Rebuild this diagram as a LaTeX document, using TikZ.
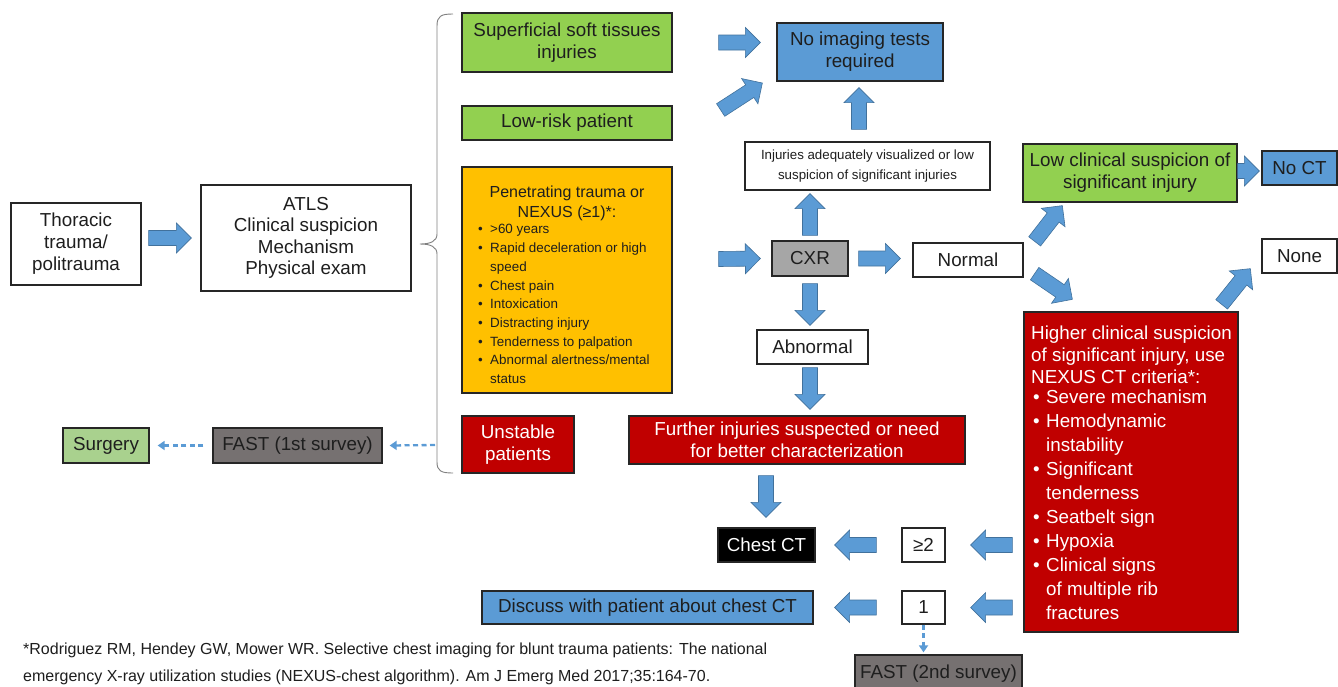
\documentclass[tikz,border=0pt]{standalone}
\usepackage{fontspec}
\setmainfont{Liberation Sans}
\usetikzlibrary{calc,arrows.meta}
\definecolor{cgreen}{HTML}{92D050}
\definecolor{cblue}{HTML}{5B9BD5}
\definecolor{cblueline}{HTML}{41719C}
\definecolor{corange}{HTML}{FFC000}
\definecolor{cred}{HTML}{C00000}
\definecolor{cgrey}{HTML}{A6A6A6}
\definecolor{cdgrey}{HTML}{767171}
\definecolor{clgreen}{HTML}{A9D18E}
\definecolor{ctext}{HTML}{1E1E1E}
\newcommand\fs[2]{\fontsize{#1}{#2}\selectfont}
\newcommand\pbul{\makebox[18pt][l]{\hspace{6pt}\textbullet}}
\newcommand\hbul{\makebox[15pt][l]{\hspace{2pt}\textbullet}}
\newcommand\blk[2]{%
  \coordinate (bA) at #1;
  \coordinate (bB) at #2;
  \coordinate (bH) at ($(bB)!15pt!(bA)$);
  \draw[blkarrow] ($(bA)!7.5pt!90:(bB)$) -- ($(bH)!7.5pt!90:(bB)$) -- ($(bH)!15pt!90:(bB)$) -- (bB)
     -- ($(bH)!15pt!-90:(bB)$) -- ($(bH)!7.5pt!-90:(bB)$) -- ($(bA)!7.5pt!-90:(bB)$) -- cycle;}
\tikzset{
  box/.style={draw=black!85, line width=1.3pt, inner sep=0pt, align=center,
    font=\fs{18.8}{22}, text=ctext},
  txt/.style={inner sep=0pt, text=ctext},
  blkarrow/.style={fill=cblue, draw=cblueline, line width=0.6pt, line join=miter},
  dasharrow/.style={draw=cblue, line width=2.3pt, dash pattern=on 5pt off 3.5pt,
    -{Triangle[length=7pt,width=9pt]}},
  bracestyle/.style={draw=black!50, line width=0.9pt},
}
\begin{document}
\begin{tikzpicture}[x=1pt,y=-1pt]
\useasboundingbox (0,0) rectangle (1338,686);
\fill[white] (0,0) rectangle (1338,686);

% left column
\node[box, minimum width=130pt, minimum height=82pt] (thor) at (76,244) {Thoracic\\trauma/\\politrauma};
\node[box, minimum width=210pt, minimum height=106pt, font=\fs{18.8}{21.5}] (atls) at (306,238) {ATLS\\Clinical suspicion\\Mechanism\\Physical exam};
\node[box, fill=clgreen, minimum width=86pt, minimum height=35pt] (surg) at (106,445.5) {Surgery};
\node[box, fill=cdgrey, minimum width=169pt, minimum height=35pt] (fast1) at (297.5,445.5) {FAST (1st survey)};

% brace
\draw[bracestyle] (453,14) .. controls (441,14) and (437,16) .. (437,26) -- (437,234)
  .. controls (437,241) and (431,244) .. (420,244)
  .. controls (431,244) and (437,247) .. (437,254) -- (437,462)
  .. controls (437,471) and (441,473) .. (453,473);
\coordinate (bracept) at (435,445);

% second column
\node[box, fill=cgreen, minimum width=210pt, minimum height=59pt] (sup) at (567,42.5) {Superficial soft tissues\\injuries};
\node[box, fill=cgreen, minimum width=210pt, minimum height=34pt] (lowrisk) at (567,123) {Low-risk patient};
\node[box, fill=corange, minimum width=210pt, minimum height=226pt] (pen) at (567,280) {};
\node[txt, align=center, font=\fs{16}{20}, anchor=base] (pentitle) at (567,217.5) {Penetrating trauma or\\NEXUS (≥1)*:};
\node[txt, align=left, font=\fs{13.4}{18.7}, anchor=base west] (penlist) at (472,383.5)
  {\pbul >60 years\\
   \pbul Rapid deceleration or high\\
   \hspace*{18pt}speed\\
   \pbul Chest pain\\
   \pbul Intoxication\\
   \pbul Distracting injury\\
   \pbul Tenderness to palpation\\
   \pbul Abnormal alertness/mental\\
   \hspace*{18pt}status};
\node[box, fill=cred, text=white, minimum width=112pt, minimum height=57pt] (unst) at (518,444.5) {Unstable\\patients};

% middle
\node[box, fill=cblue, minimum width=166pt, minimum height=58pt] (noimg) at (860,52) {No imaging tests\\required};
\node[box, minimum width=245pt, minimum height=48pt, font=\fs{13.3}{20}] (inj) at (867.5,166) {Injuries adequately visualized or low\\suspicion of significant injuries};
\node[box, fill=cgrey, minimum width=76pt, minimum height=35pt] (cxr) at (810,258.5) {CXR};
\node[box, minimum width=110pt, minimum height=34pt] (normal) at (968,260) {Normal};
\node[box, minimum width=111pt, minimum height=34pt] (abn) at (812.5,347) {Abnormal};
\node[box, fill=cred, text=white, minimum width=336pt, minimum height=48pt] (further) at (797,440) {Further injuries suspected or need\\for better characterization};
\node[box, fill=black, text=white, minimum width=97pt, minimum height=34pt] (chestct) at (766.5,545) {Chest CT};
\node[box, minimum width=43pt, minimum height=34pt] (ge2) at (923.5,545) {≥2};
\node[box, fill=cblue, minimum width=331pt, minimum height=33pt] (disc) at (647.5,607.5) {Discuss with patient about chest CT};
\node[box, minimum width=43pt, minimum height=33pt] (one) at (923.5,607.5) {1};
\node[box, fill=cdgrey, minimum width=167pt, minimum height=38pt] (fast2) at (938.5,674) {FAST (2nd survey)};

% right
\node[box, fill=cgreen, minimum width=214pt, minimum height=58pt] (lowcl) at (1130,173) {Low clinical suspicion of\\significant injury};
\node[box, fill=cblue, minimum width=75pt, minimum height=34pt] (noct) at (1299.5,168) {No CT};
\node[box, minimum width=75pt, minimum height=34pt] (none) at (1299.5,256) {None};
\node[box, fill=cred, minimum width=214pt, minimum height=320pt] (higher) at (1131,472) {};
\node[txt, text=white, align=left, font=\fs{18.8}{22}, anchor=base west] (highertxt) at (1031,619)
  {Higher clinical suspicion\\of significant injury, use\\NEXUS CT criteria*:\\[-2pt]
   \hbul Severe mechanism\\[2pt]
   \hbul Hemodynamic\\[2pt]
   \hspace*{15pt}instability\\[2pt]
   \hbul Significant\\[2pt]
   \hspace*{15pt}tenderness\\[2pt]
   \hbul Seatbelt sign\\[2pt]
   \hbul Hypoxia\\[2pt]
   \hbul Clinical signs\\[2pt]
   \hspace*{15pt}of multiple rib\\[2pt]
   \hspace*{15pt}fractures};

% footnote
\node[txt, anchor=base west, align=left, font=\fs{16}{27}] (foot) at (23,681.5)
  {*Rodriguez RM, Hendey GW, Mower WR. Selective chest imaging for blunt trauma patients: The national\\
   emergency X-ray utilization studies (NEXUS-chest algorithm). Am J Emerg Med 2017;35:164-70.};

% block arrows
\blk{($(thor.east)+(7,-6)$)}{($(atls.west)+(-9,0)$)}
\blk{($(sup.east)+(46,0)$)}{($(noimg.west)+(-16,-9.5)$)}
\blk{($(lowrisk.east)+(48,-13)$)}{($(noimg.west)+(-14,31)$)}
\blk{($(inj.north)+(-8.5,-12)$)}{($(noimg.south)+(-1,6)$)}
\blk{($(pen.east)+(46,-21)$)}{($(cxr.west)+(-11,0)$)}
\blk{($(cxr.north)+(0,-5)$)}{($(inj.south)+(-57.5,3)$)}
\blk{($(cxr.east)+(10,0)$)}{($(normal.west)+(-12,-1.5)$)}
\blk{($(cxr.south)+(0,7)$)}{($(abn.north)+(-2.5,-4)$)}
\blk{($(abn.south)+(-2.5,3)$)}{($(further.north)+(13,-6)$)}
\blk{($(normal.north east)+(11,-1)$)}{($(lowcl.south west)+(40,3)$)}
\blk{($(normal.south east)+(11,-4)$)}{($(higher.north west)+(49,-12)$)}
\blk{($(lowcl.east)+(0,-2)$)}{($(noct.west)+(-2,3)$)}
\blk{($(higher.north east)+(-17,-7)$)}{($(none.south west)+(-11,-5)$)}
\blk{($(further.south)+(-31,11)$)}{($(chestct.north)+(-0.5,-10)$)}
\blk{($(higher.west)+(-11,73)$)}{($(ge2.east)+(25,0)$)}
\blk{($(ge2.west)+(-25,0)$)}{($(chestct.east)+(19,0)$)}
\blk{($(higher.west)+(-11,135.5)$)}{($(one.east)+(25,0)$)}
\blk{($(one.west)+(-25,0)$)}{($(disc.east)+(21,0)$)}

% dashed arrows
\draw[dasharrow] (bracept) -- ($(fast1.east)+(7,0)$);
\draw[dasharrow] ($(fast1.west)+(-9,0)$) -- ($(surg.east)+(8,0)$);
\draw[dasharrow] (one.south) -- ($(one.south |- fast2.north)+(0,-2)$);
\end{tikzpicture}
\end{document}
